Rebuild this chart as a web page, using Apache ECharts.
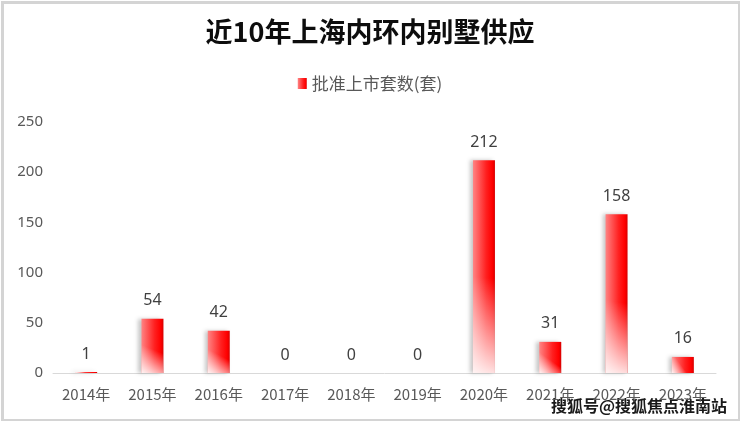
<!DOCTYPE html>
<html><head><meta charset="utf-8">
<script src="https://cdn.jsdelivr.net/npm/echarts@6/dist/echarts.min.js"></script>
<style>html,body{margin:0;padding:0;background:#fff}#c{width:740px;height:421px}</style>
</head><body><div id="c"></div>
<script>
const categories = ['2014年','2015年','2016年','2017年','2018年','2019年','2020年','2021年','2022年','2023年'];
const values = [1,54,42,0,0,0,212,31,158,16];
const seriesName = '批准上市套数(套)';
const titleText = '近10年上海内环内别墅供应';
const watermark = '搜狐号@搜狐焦点淮南站';

const baseGrad = new echarts.graphic.LinearGradient(0, 0, 1, 0, [
  {offset: 0, color: '#ff8484'},
  {offset: 0.6, color: '#ff2020'},
  {offset: 0.88, color: '#ff0000'},
  {offset: 1, color: '#d60000'}
]);
const fadeGrad = new echarts.graphic.LinearGradient(1, 0, 0, 1, [
  {offset: 0, color: 'rgba(255,255,255,0)'},
  {offset: 0.55, color: 'rgba(255,255,255,0)'},
  {offset: 1, color: 'rgba(255,255,255,0.9)'}
]);
const chart = echarts.init(document.getElementById('c'));
chart.setOption({
  backgroundColor: '#fff',
  animation: false,
  title: {text: titleText, left: 'center', top: 13,
    textStyle: {fontSize: 27, fontWeight: 'bold', color: '#0d0d0d', fontFamily: 'Noto Sans CJK SC'}},
  legend: {data: [{name: seriesName, icon: 'rect'}], top: 70, left: 'center', itemWidth: 9, itemHeight: 11, itemGap: 6,
    textStyle: {fontSize: 17, color: '#595959', fontFamily: 'Noto Sans CJK SC'}},
  grid: {left: 53, right: 24, top: 122, bottom: 48},
  xAxis: {type: 'category', data: categories,
    axisLine: {lineStyle: {color: '#d9d9d9', width: 1}},
    axisTick: {show: false},
    axisLabel: {color: '#595959', fontSize: 15, margin: 14, fontFamily: 'Noto Sans CJK SC', interval: 0}},
  yAxis: {type: 'value', min: 0, max: 250, interval: 50,
    axisLine: {show: false}, axisTick: {show: false}, splitLine: {show: false},
    axisLabel: {color: '#595959', fontSize: 15, margin: 10, fontFamily: 'Noto Sans'}},
  series: [
    {name: seriesName, type: 'bar', data: values, barWidth: 22, barGap: '-100%',
      itemStyle: {color: baseGrad, shadowColor: 'rgba(0,0,0,0.22)', shadowBlur: 4, shadowOffsetX: -3},
      label: {show: true, position: 'top', distance: 10, color: '#404040', fontSize: 16, fontFamily: 'Noto Sans'}},
    {name: 'fade', type: 'bar', data: values, barWidth: 22, barGap: '-100%', silent: true,
      itemStyle: {color: fadeGrad}, label: {show: false}}
  ],
  graphic: [
    {type: 'rect', left: 0, top: 0, shape: {x: 1.5, y: 1.5, width: 737, height: 418},
      style: {fill: 'none', stroke: '#d4d4d4', lineWidth: 3}, silent: true},
    {type: 'text', right: 12, bottom: 6, style: {text: watermark,
      fill: '#1a1a1a', stroke: '#ffffff', lineWidth: 2, font: 'bold 16px "Noto Sans CJK SC"'}}
  ]
});
</script></body></html>
